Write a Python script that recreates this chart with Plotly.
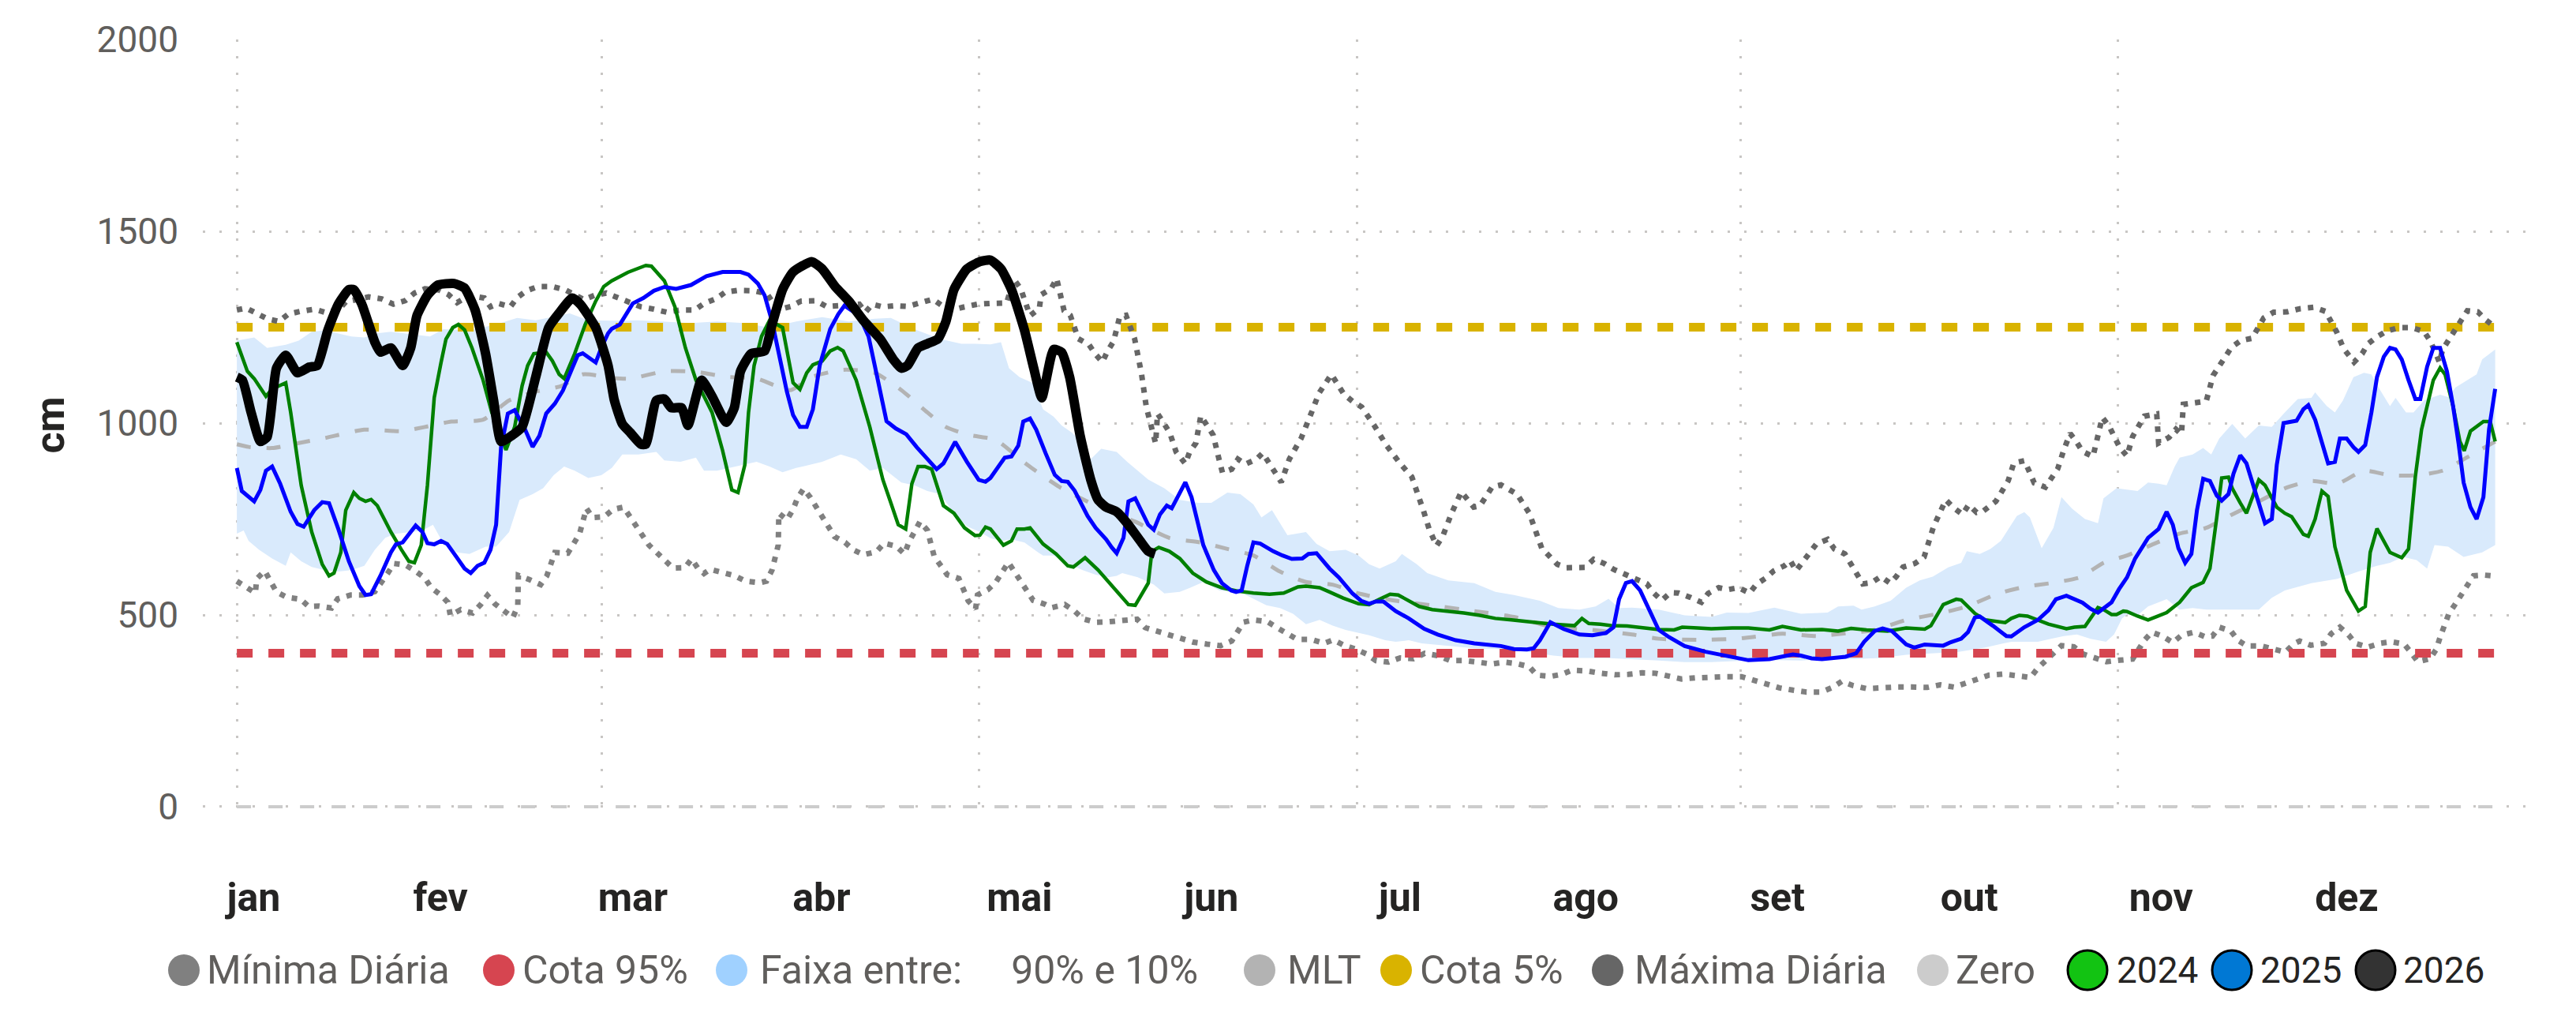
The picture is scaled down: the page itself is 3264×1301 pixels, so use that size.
import plotly.graph_objects as go

# ---------------- data (day of year, 0 = 1 jan) ----------------
month_labels = ["jan", "fev", "mar", "abr", "mai", "jun", "jul", "ago", "set", "out", "nov", "dez"]
month_label_days = [2.7, 32.9, 64.0, 94.5, 126.5, 157.5, 188.0, 218.0, 249.0, 280.0, 311.0, 341.0]
grid_days = [0, 59, 120, 181, 243, 304]
y_ticks = [0, 500, 1000, 1500, 2000]

cota95_value = 400
cota5_value = 1250
zero_value = 0
full_year = [0, 365]

d2026 = [0, 0.9, 2.3, 3.8, 4.9, 6.4, 7.9, 9.8, 11.7, 13.0, 14.7, 16.4, 18.1, 18.9, 20.2, 22.3, 23.2, 24.9,
         26.8, 28.1, 29.1, 30.8, 32.5, 35.1, 36.8, 38.5, 40.2, 41.5, 42.7, 44.4, 46.1, 48.3, 50.4, 52.1,
         54.2, 55.5, 58.0, 60.0, 61.0, 62.3, 63.6, 65.3, 66.1, 67.8, 69.1, 70.2, 71.9, 72.9, 75.1, 76.8,
         79.1, 80.4, 81.4, 83.1, 85.3, 86.5, 88.2, 89.9, 92.9, 94.6, 96.7, 98.9, 101.4, 104.0, 106.1,
         107.4, 108.4, 110.1, 111.6, 113.3, 114.6, 115.9, 118.0, 120.1, 121.8, 123.5, 125.2, 127.3,
         128.8, 130.1, 132.0, 133.3, 134.6, 136.3, 138.0, 139.2, 140.5, 142.2, 143.9, 146.0, 147.3, 148.4]
v2026 = [1120, 1112, 1028, 952, 964, 1143, 1177, 1131, 1146, 1150, 1242, 1310, 1348, 1348, 1310, 1211, 1185, 1196,
         1150, 1196, 1280, 1333, 1360, 1364, 1352, 1295, 1181, 1059, 952, 967, 990, 1120, 1249, 1287,
         1326, 1310, 1249, 1150, 1060, 998, 975, 945, 945, 1059, 1063, 1040, 1040, 994, 1112, 1070,
         1002, 1040, 1135, 1181, 1188, 1257, 1348, 1394, 1421, 1402, 1356, 1318, 1265, 1219, 1166,
         1143, 1150, 1196, 1207, 1219, 1265, 1348, 1402, 1421, 1425, 1402, 1348, 1242,
         1143, 1066, 1192, 1185, 1120, 967, 853, 800, 781, 769, 739, 693, 666, 659]

d2024 = [0, 1.7, 2.8, 4.7, 5.7, 7.9, 8.7, 10.4, 12.1, 13.8, 14.9, 15.7, 16.8, 17.6, 18.9, 19.8, 20.8, 21.7, 22.7,
         24.9, 26.6, 27.8, 28.7, 29.8, 30.8, 31.9, 33.0, 33.8, 34.9, 35.8, 36.8, 38.0, 39.8, 41.2, 43.5, 44.9,
         46.1, 47.0, 48.0, 50.0, 51.0, 52.1, 52.9, 54.6, 56.3, 58.0, 59.3, 60.6, 63.2, 66.1, 67.0, 69.1, 70.8,
         72.5, 74.2, 76.8, 78.5, 80.0, 81.0, 82.1, 82.7, 83.6, 84.8, 86.1, 88.2, 89.9, 91.0, 92.1, 93.1, 94.6,
         95.9, 97.1, 98.0, 100.1, 102.3, 104.4, 105.7, 106.9, 108.1, 109.1, 110.1, 111.2, 112.3, 114.2, 115.9,
         117.6, 119.3, 120.1, 121.0, 121.8, 123.9, 125.2, 126.1, 127.3, 128.2, 130.3, 132.4, 134.3, 135.2,
         137.1, 139.2, 140.9, 142.6, 144.1, 145.2, 146.2, 147.3, 147.9, 149.0, 150.7, 152.4, 154.5, 156.7,
         159.2, 161.8, 164.3, 166.9, 169.2, 171.5, 172.8, 175.0, 176.6, 178.8, 181.3, 183.0, 184.7, 186.4,
         187.7, 189.0, 191.1, 193.2, 195.8, 198.3, 200.9, 203.4, 206.0, 208.5, 210.2, 212.8, 216.2, 217.4,
         218.5, 220.4, 222.1, 224.7, 227.2, 229.8, 232.3, 233.6, 236.1, 238.3, 241.7, 244.3, 247.7, 249.8,
         252.8, 256.2, 258.8, 260.9, 263.4, 266.8, 269.8, 272.8, 273.8, 275.8, 277.9, 278.7, 280.9, 282.6,
         285.8, 286.8, 288.1, 289.4, 292.8, 295.7, 297.0, 298.7, 300.8, 301.7, 303.0, 303.8, 304.9, 305.5,
         307.2, 308.9, 310.2, 311.9, 314.0, 315.9, 317.8, 318.9, 320.0, 320.8, 321.9, 322.5, 323.8, 324.8,
         326.8, 327.8, 329.7, 331.0, 332.1, 334.0, 334.8, 335.9, 337.0, 338.0, 339.1, 341.0, 342.9, 344.0,
         344.8, 345.9, 348.0, 349.9, 351.0, 352.1, 353.1, 355.0, 356.1, 356.9, 358.2, 359.3, 360.0, 361.0,
         363.1, 364.2, 365.0]
v2024 = [1211, 1135, 1116, 1070, 1089, 1105, 1028, 838, 716, 632, 602, 609, 663, 773, 819, 804, 796, 801, 785,
         716, 670, 640, 636, 682, 838, 1066, 1158, 1219, 1249, 1257, 1243, 1196, 1112, 1028, 930, 990,
         1097, 1150, 1181, 1185, 1162, 1127, 1116, 1181, 1257, 1318, 1356, 1371, 1393, 1411, 1409, 1371, 1303,
         1196, 1112, 1028, 929, 826, 819, 891, 1028, 1150, 1226, 1268, 1249, 1105, 1088, 1131, 1152, 1162,
         1188, 1197, 1188, 1112, 990, 853, 792, 735, 724, 842, 887, 887, 880, 785, 765,
         727, 707, 708, 729, 724, 682, 693, 724, 724, 727, 685, 659, 628, 625,
         649, 617, 586, 552, 527, 525, 552, 583, 666, 676, 666, 647, 609, 586,
         571, 562, 557, 554, 557, 573, 575, 571, 560, 544, 529, 527, 541, 554,
         552, 541, 522, 514, 510, 505, 499, 491, 487, 484, 480, 476, 472, 491,
         478, 476, 472, 471, 466, 462, 461, 468, 466, 464, 466, 466, 461, 470,
         461, 462, 458, 465, 461, 458, 466, 463, 472, 527, 541, 539, 504, 487,
         480, 491, 499, 497, 476, 464, 468, 470, 519, 514, 501, 501, 510, 509,
         497, 487, 495, 506, 533, 571, 585, 621, 754, 857, 859, 830, 792, 765,
         852, 838, 781, 765, 756, 710, 705, 750, 823, 809, 678, 564, 510, 522,
         663, 725, 663, 649, 672, 861, 983, 1112, 1144, 1127, 1044, 952, 928, 979,
         1004, 1004, 952]

d2025 = [0, 0.8, 2.8, 3.8, 4.7, 5.7, 7.0, 8.7, 9.8, 10.8, 12.5, 13.8, 14.9, 16.4, 18.1, 19.8, 20.8, 21.7, 23.2,
         24.9, 25.7, 26.8, 28.9, 30.0, 30.8, 31.9, 33.0, 34.0, 35.5, 36.8, 37.8, 38.9, 40.0, 41.0, 41.9, 42.7,
         43.8, 44.9, 46.6, 47.8, 48.9, 50.0, 51.4, 52.7, 54.2, 55.1, 55.9, 57.2, 58.0, 58.9, 60.0, 60.6, 61.9,
         64.0, 65.7, 67.4, 69.1, 71.0, 73.4, 75.9, 78.5, 81.4, 82.7, 84.2, 85.3, 86.5, 87.8, 88.9, 89.9, 91.0,
         92.1, 93.1, 94.2, 95.9, 97.2, 98.2, 100.6, 102.1, 103.1, 105.0, 106.5, 108.2, 109.9, 111.6, 113.1,
         114.2, 116.1, 118.0, 119.9, 121.0, 121.8, 124.1, 125.2, 126.3, 127.1, 128.2, 129.2, 130.7, 132.2,
         133.3, 134.3, 135.4, 137.5, 138.8, 140.5, 141.4, 142.2, 143.3, 144.1, 145.2, 147.3, 148.2, 149.2,
         150.3, 151.1, 153.3, 154.3, 156.2, 157.9, 159.2, 160.7, 161.5, 162.4, 163.3, 164.3, 165.4, 167.5,
         169.0, 170.5, 172.2, 173.2, 174.5, 176.6, 178.1, 180.3, 181.7, 183.0, 184.1, 185.3, 187.3, 189.4,
         191.9, 194.1, 197.0, 200.0, 204.3, 206.4, 208.5, 209.6, 210.6, 212.3, 214.5, 217.0, 219.1, 221.3,
         222.5, 223.4, 224.5, 225.5, 226.8, 228.1, 229.8, 231.5, 234.0, 237.4, 240.0, 242.5, 244.3, 247.7,
         249.8, 251.5, 252.8, 254.5, 256.2, 258.8, 260.0, 261.7, 263.0, 264.7, 266.0, 267.5, 269.8, 271.1,
         272.8, 275.8, 277.0, 278.7, 279.8, 280.9, 281.7, 283.8, 286.0, 286.8, 288.9, 291.1, 292.8, 294.0,
         295.7, 298.3, 299.6, 300.8, 303.0, 304.2, 305.5, 306.8, 307.8, 308.9, 310.6, 311.9, 312.9, 313.8,
         314.9, 315.9, 316.8, 317.8, 318.9, 320.0, 320.8, 321.9, 322.7, 323.8, 324.8, 325.9, 327.8, 328.9,
         329.7, 330.8, 331.9, 332.9, 334.0, 334.8, 335.9, 338.0, 339.1, 339.9, 341.0, 342.1, 342.9, 344.0,
         345.0, 345.9, 347.0, 348.0, 348.9, 349.9, 351.0, 352.1, 352.9, 354.0, 355.0, 356.1, 357.2, 358.2,
         359.1, 359.9, 361.0, 362.0, 363.1, 364.0, 365.0]
v2025 = [883, 823, 796, 826, 876, 887, 842, 769, 737, 730, 773, 794, 791, 724, 640, 575, 552, 554, 602,
         663, 684, 689, 733, 716, 687, 684, 693, 685, 651, 621, 609, 628, 636, 670, 735, 937,
         1025, 1034, 983, 938, 967, 1025, 1051, 1085, 1143, 1177, 1182, 1166, 1158, 1196, 1234, 1246, 1257,
         1312, 1326, 1345, 1355, 1350, 1360, 1383, 1394, 1394, 1387, 1364, 1333, 1265, 1166, 1082, 1021, 990,
         990, 1036, 1150, 1245, 1284, 1306, 1280, 1226, 1150, 1005, 986, 971, 937, 906, 880,
         895, 951, 899, 852, 847, 857, 910, 913, 941, 1004, 1012, 983, 922, 865,
         849, 847, 824, 758, 727, 697, 676, 661, 701, 796, 804, 735, 722, 762,
         785, 778, 846, 807, 682, 617, 583, 564, 560, 564, 628, 689, 686, 666,
         655, 646, 647, 659, 661, 621, 598, 556, 537, 529, 535, 535, 510, 491,
         464, 449, 434, 426, 419, 411, 410, 413, 434, 481, 463, 449, 447, 453,
         468, 541, 583, 588, 564, 518, 461, 442, 419, 404, 396, 387, 382, 385,
         391, 397, 394, 387, 385, 390, 391, 400, 430, 458, 465, 458, 423, 415,
         423, 420, 429, 438, 455, 493, 496, 472, 445, 444, 468, 487, 512, 541,
         550, 532, 516, 506, 533, 567, 598, 647, 672, 701, 724, 769, 735, 674,
         636, 659, 773, 855, 849, 811, 798, 815, 868, 916, 895, 838, 739, 750,
         891, 1000, 1004, 1006, 1036, 1047, 1009, 895, 899, 960, 960, 937, 925, 943,
         1028, 1120, 1173, 1196, 1192, 1166, 1112, 1063, 1063, 1147, 1196, 1196, 1135, 1044,
         945, 845, 781, 750, 807, 983, 1089]

d_mlt = [0, 1.9, 5.7, 10.0, 14.2, 20.6, 26.6, 30.4, 34.7, 39.8, 44.0, 48.3, 52.5, 55.9, 60.6, 63.6, 69.1, 74.2,
         78.9, 84.0, 89.5, 92.9, 98.0, 103.1, 107.4, 111.6, 114.6, 118.4, 121.8, 123.1, 127.8, 132.9, 138.8,
         145.2, 150.7, 155.8, 160.1, 164.3, 168.6, 172.8, 177.1, 181.3, 183.0, 187.3, 193.6, 200.0, 206.4,
         212.8, 219.1, 225.5, 229.8, 236.1, 242.5, 249.8, 255.4, 260.5, 264.7, 269.8, 274.9, 279.6, 284.7,
         288.9, 293.2, 297.9, 301.7, 305.5, 309.8, 314.0, 318.3, 322.5, 326.8, 331.0, 335.3, 339.5, 343.8,
         348.0, 352.3, 356.5, 360.8, 365.0]
v_mlt = [945, 938, 935, 948, 961, 983, 979, 990, 1004, 1009, 1059, 1082, 1097, 1127, 1118, 1116, 1135, 1134,
         1121, 1116, 1086, 1120, 1139, 1131, 1086, 1028, 990, 969, 960, 952, 891, 834, 785,
         743, 701, 689, 672, 655, 613, 586, 579, 556, 550, 537, 524, 510, 495,
         468, 461, 449, 438, 435, 438, 451, 445, 453, 461, 487, 503, 522, 556,
         573, 583, 598, 636, 655, 685, 712, 727, 762, 796, 830, 849, 842, 876,
         864, 864, 876, 914, 952]

d_p90 = [0, 2.8, 4.9, 7.9, 10.0, 12.1, 14.2, 16.4, 18.5, 20.6, 22.7, 24.9, 29.1, 31.2, 33.4, 37.6, 41.9, 45.3,
         48.3, 53.8, 56.8, 60.6, 64.9, 69.1, 73.4, 77.6, 81.9, 86.1, 90.4, 94.6, 98.9, 103.1, 105.7, 109.5,
         113.7, 117.1, 119.3, 121.8, 123.5, 124.8, 126.5, 128.6, 130.3, 132.0, 133.3, 135.0, 136.3, 138.0,
         139.7, 142.2, 143.9, 145.6, 147.3, 149.9, 152.4, 155.4, 157.5, 160.1, 162.2, 164.3, 165.6, 167.3,
         169.8, 172.8, 174.5, 176.6, 179.2, 181.3, 183.0, 184.7, 187.3, 188.3, 190.7, 192.4, 195.8, 200.0,
         203.4, 206.4, 210.6, 213.6, 217.0, 219.6, 221.7, 223.4, 225.5, 229.8, 234.0, 238.3, 240.8, 244.3,
         248.5, 252.8, 257.1, 258.8, 261.3, 262.6, 264.7, 267.3, 269.8, 272.0, 274.1, 276.6, 278.7, 279.6,
         281.7, 283.4, 285.1, 287.7, 288.9, 289.8, 291.7, 293.6, 294.9, 296.6, 298.7, 300.8, 301.7, 303.8,
         305.5, 307.2, 308.9, 310.6, 311.9, 313.2, 314.0, 316.1, 317.8, 319.1, 320.4, 322.5, 324.6, 326.8,
         328.9, 331.0, 333.1, 335.3, 335.9, 337.8, 339.1, 340.4, 342.1, 343.8, 345.0, 346.3, 348.0, 348.9,
         350.6, 351.8, 353.5, 354.8, 356.1, 357.4, 358.6, 362.0, 362.9, 365.0]
v_p90 = [1215, 1223, 1196, 1204, 1215, 1238, 1242, 1234, 1226, 1223, 1234, 1238, 1230, 1226, 1245, 1242, 1257, 1274,
         1268, 1286, 1268, 1267, 1268, 1265, 1261, 1265, 1261, 1249, 1265, 1276, 1265, 1272, 1274, 1245,
         1219, 1207, 1207, 1205, 1211, 1143, 1120, 1105, 1036, 1017, 994, 975, 952, 906,
         933, 925, 899, 876, 853, 830, 800, 792, 792, 819, 815, 788, 754, 773,
         708, 716, 685, 666, 670, 655, 632, 621, 640, 659, 632, 609, 590, 583,
         560, 552, 537, 518, 514, 522, 542, 518, 519, 514, 499, 495, 506, 505,
         519, 503, 506, 522, 524, 514, 522, 537, 571, 590, 600, 624, 636, 666,
         659, 672, 693, 758, 768, 754, 674, 727, 807, 777, 750, 739, 804, 830,
         826, 823, 845, 842, 838, 887, 910, 918, 935, 918, 960, 998, 960, 994,
         990, 1028, 1063, 1066, 1080, 1044, 1028, 1059, 1120, 1131, 1127, 1089, 1044, 1066,
         1028, 1028, 1059, 1066, 1074, 1068, 1093, 1127, 1166, 1192]

d_p10 = [0, 1.1, 1.9, 3.6, 5.7, 7.9, 8.7, 10.4, 12.1, 14.2, 16.4, 18.5, 20.6, 22.3, 24.0, 25.7, 28.3, 30.0,
         31.7, 33.0, 35.5, 37.6, 40.2, 41.9, 44.0, 45.7, 47.8, 49.5, 51.2, 52.9, 54.6, 56.8, 58.9, 60.6,
         62.3, 64.9, 67.8, 69.1, 71.7, 74.2, 75.5, 77.6, 79.7, 81.9, 84.0, 86.1, 88.2, 90.4, 92.5, 94.6,
         97.6, 100.1, 102.3, 104.4, 107.4, 109.5, 111.6, 113.7, 115.9, 118.0, 120.1, 121.8, 123.5, 125.2,
         127.3, 129.5, 130.3, 132.0, 134.6, 136.7, 138.8, 140.9, 142.2, 143.1, 145.6, 148.2, 149.9, 152.4,
         154.1, 156.2, 158.8, 162.6, 166.4, 168.6, 170.7, 172.8, 175.0, 177.1, 179.2, 183.0, 185.6, 187.3,
         189.4, 191.5, 195.8, 200.0, 204.3, 208.5, 212.8, 217.0, 221.3, 225.5, 229.8, 234.0, 238.3, 244.3,
         248.5, 252.8, 257.1, 261.3, 265.6, 269.8, 274.1, 278.3, 282.6, 284.7, 286.8, 288.9, 291.1, 293.2,
         295.3, 297.4, 299.6, 302.1, 303.4, 304.7, 305.5, 307.2, 308.9, 311.9, 314.0, 316.1, 318.3, 322.5,
         326.8, 328.9, 331.0, 335.3, 339.5, 342.9, 345.9, 348.0, 350.1, 352.3, 354.0, 355.2, 357.4, 359.9,
         362.9, 365.0]
v_p10 = [712, 720, 693, 670, 647, 628, 663, 640, 625, 617, 613, 617, 628, 670, 701, 712, 716, 720,
         735, 697, 663, 659, 678, 678, 716, 800, 815, 830, 864, 887, 876, 857, 864, 883,
         918, 918, 925, 903, 899, 910, 876, 876, 883, 891, 899, 887, 872, 883, 891, 899,
         918, 906, 876, 883, 845, 838, 823, 815, 765, 731, 716, 700, 693, 697,
         689, 663, 655, 655, 632, 617, 605, 598, 602, 609, 598, 579, 556, 560,
         571, 586, 564, 556, 525, 518, 503, 476, 487, 472, 461, 447, 434, 430,
         434, 426, 419, 413, 411, 404, 394, 388, 388, 385, 381, 377, 377, 381,
         382, 381, 385, 385, 388, 396, 400, 404, 415, 423, 430, 430, 430, 438,
         445, 449, 438, 430, 449, 491, 501, 499, 522, 541, 514, 518, 514, 514,
         514, 545, 564, 583, 594, 613, 628, 636, 651, 643, 621, 682, 678, 651,
         663, 682]

d_max = [0, 1.5, 3.2, 4.9, 6.8, 8.3, 10.2, 12.5, 14.2, 16.4, 17.6, 19.3, 21.3, 23.4, 25.3, 27.2, 28.7, 30.4,
         32.7, 34.2, 35.6, 37.6, 40.0, 41.0, 42.3, 44.2, 45.3, 46.8, 48.7, 51.0, 53.1, 56.1, 57.8, 59.7,
         61.5, 63.4, 65.3, 67.4, 69.5, 71.7, 74.0, 75.5, 77.4, 78.9, 81.0, 83.6, 85.7, 87.4, 89.5, 91.2,
         93.6, 95.3, 97.0, 100.6, 101.6, 102.7, 104.4, 106.3, 108.4, 110.6, 112.5, 114.0, 115.7, 117.6,
         119.7, 121.8, 124.4, 125.6, 126.7, 128.2, 129.7, 130.0, 131.6, 132.5, 133.7, 134.7, 136.0, 137.7,
         138.7, 139.9, 140.7, 141.7, 142.7, 143.7, 145.1, 146.2, 147.0, 148.5, 148.8, 149.8, 150.8, 151.8,
         153.3, 154.0, 155.0, 155.8, 156.8, 157.8, 158.8, 159.3, 160.8, 161.8, 163.0, 164.8, 165.8, 166.8,
         168.8, 170.1, 172.0, 173.8, 174.9, 176.9, 178.9, 180.3, 181.8, 183.9, 185.8, 188.0, 189.9, 191.8,
         192.7, 193.9, 194.9, 196.3, 197.9, 199.9, 200.9, 202.9, 204.3, 206.9, 208.9, 210.9, 213.4, 214.9,
         217.9, 219.3, 221.0, 222.5, 224.3, 226.0, 227.9, 229.0, 230.3, 231.7, 233.0, 234.9, 236.7, 237.8,
         239.5, 241.0, 242.7, 244.5, 245.6, 247.1, 248.4, 250.1, 251.1, 252.0, 254.2, 255.3, 257.1, 258.2,
         259.9, 261.3, 262.8, 264.2, 265.7, 267.2, 268.2, 269.3, 271.2, 272.7, 274.2, 276.2, 277.5, 278.9,
         279.9, 281.2, 282.3, 284.3, 286.3, 287.2, 288.9, 289.7, 290.5, 292.3, 293.3, 294.3, 295.3, 296.3,
         297.3, 298.3, 300.0, 301.5, 302.6, 303.4, 304.3, 305.5, 306.4, 308.3, 310.3, 310.6, 312.3, 313.4,
         314.3, 314.6, 316.8, 318.3, 319.4, 320.4, 321.4, 322.4, 323.9, 325.7, 327.6, 329.2, 331.4, 333.4,
         335.7, 337.6, 338.5, 339.4, 340.5, 342.2, 343.5, 344.4, 345.9, 347.5, 349.5, 351.5, 353.5, 354.5,
         355.3, 356.0, 356.5, 357.5, 358.5, 359.5, 360.5, 362.2, 363.5, 365.0]
v_max = [1295, 1300, 1286, 1272, 1265, 1284, 1291, 1297, 1289, 1295, 1316, 1322, 1329, 1324, 1310, 1319, 1339, 1350,
         1347, 1335, 1314, 1333, 1326, 1303, 1312, 1303, 1327, 1345, 1356, 1356, 1347, 1322, 1333, 1339,
         1327, 1316, 1303, 1297, 1289, 1295, 1295, 1312, 1324, 1341, 1346, 1345, 1337, 1295, 1304, 1318,
         1319, 1304, 1306, 1310, 1289, 1310, 1303, 1306, 1304, 1314, 1323, 1306, 1295, 1303,
         1310, 1312, 1313, 1375, 1350, 1280, 1299, 1335, 1350, 1377, 1293, 1281, 1220, 1205,
         1181, 1159, 1187, 1213, 1278, 1281, 1220, 1130, 1041, 947, 1025, 1000, 974, 925,
         894, 925, 948, 1019, 994, 969, 902, 871, 880, 906, 893, 906, 922, 897,
         846, 906, 960, 1032, 1078, 1127, 1076, 1057, 1042, 992, 942, 895, 860, 771,
         724, 680, 705, 764, 821, 781, 784, 834, 839, 815, 765, 674, 632, 623,
         624, 645, 634, 619, 607, 594, 581, 557, 538, 558, 557, 546, 533, 556,
         571, 566, 571, 557, 580, 596, 615, 628, 641, 615, 663, 685, 697, 672,
         659, 619, 581, 584, 600, 583, 600, 625, 634, 651, 729, 800, 779, 762,
         787, 767, 771, 796, 850, 896, 902, 874, 844, 833, 856, 881, 931, 973,
         952, 926, 913, 1015, 992, 963, 937, 914, 965, 1018, 1024, 948, 963, 984,
         971, 1049, 1055, 1057, 1124, 1149, 1173, 1198, 1215, 1221, 1274, 1289, 1290, 1298,
         1302, 1291, 1264, 1237, 1194, 1159, 1181, 1206, 1225, 1240, 1249, 1249, 1239, 1214,
         1186, 1158, 1192, 1217, 1243, 1268, 1293, 1290, 1269, 1250]

d_min = [0, 1.3, 3.0, 3.2, 4.5, 5.5, 6.4, 8.1, 10.3, 11.6, 13.3, 15.3, 16.3, 18.4, 20.3, 22.3, 23.4, 24.4,
         25.4, 27.3, 28.8, 30.4, 31.4, 32.8, 34.1, 34.5, 36.2, 38.1, 39.4, 40.5, 41.7, 43.1, 44.6, 45.4,
         45.5, 47.3, 49.1, 50.1, 51.4, 53.5, 55.4, 56.5, 57.5, 59.4, 60.8, 62.5, 64.5, 66.6, 69.2, 70.5,
         72.4, 73.5, 74.5, 75.5, 76.5, 78.5, 80.5, 82.2, 84.5, 85.6, 86.5, 87.5, 87.6, 88.9, 89.9, 90.6,
         91.6, 92.7, 94.6, 96.6, 98.3, 99.6, 101.3, 103.4, 104.6, 106.6, 107.9, 108.6, 110.4, 111.6, 112.7,
         113.7, 114.8, 116.7, 118.2, 119.4, 119.7, 121.4, 122.7, 124.7, 125.7, 127.7, 128.7, 130.6, 131.7,
         133.8, 135.4, 136.7, 138.7, 140.8, 143.1, 145.5, 146.8, 148.7, 150.7, 152.8, 154.6, 156.8, 159.0,
         160.8, 162.7, 164.3, 166.5, 168.1, 169.8, 171.4, 173.7, 175.7, 177.2, 178.9, 180.8, 182.6, 184.1,
         186.1, 188.0, 190.2, 192.0, 194.1, 196.1, 198.4, 200.6, 202.8, 204.9, 206.9, 208.9, 210.1, 212.4,
         214.1, 215.8, 218.2, 220.4, 222.7, 224.9, 227.1, 229.3, 231.4, 233.5, 235.8, 238.2, 240.7, 243.2,
         245.1, 247.1, 249.3, 251.5, 253.7, 256.1, 257.9, 259.4, 261.2, 263.4, 265.8, 268.3, 270.7, 273.2,
         275.3, 277.5, 279.4, 281.3, 283.2, 285.5, 287.7, 289.9, 291.0, 292.3, 293.6, 294.9, 296.9, 298.4,
         300.3, 302.2, 304.3, 306.4, 308.3, 309.5, 311.3, 312.9, 314.3, 316.3, 318.0, 319.3, 320.4, 322.3,
         323.4, 324.9, 327.2, 329.2, 331.1, 332.4, 333.4, 335.2, 337.4, 338.5, 339.9, 341.3, 342.4, 344.4,
         346.4, 348.2, 350.3, 351.4, 352.5, 354.5, 355.5, 356.1, 356.7, 357.5, 358.5, 359.5, 360.5, 361.5,
         363.1, 364.5]
v_min = [588, 573, 557, 594, 615, 586, 560, 546, 541, 522, 523, 518, 542, 552, 552, 561, 584, 609,
         634, 630, 615, 596, 571, 554, 533, 499, 514, 505, 527, 551, 529, 510, 493, 523,
         603, 592, 579, 602, 663, 661, 712, 778, 754, 756, 775, 781, 731, 682, 642, 622,
         623, 646, 622, 608, 619, 609, 602, 588, 584, 588, 617, 682, 765, 748, 775, 804,
         829, 806, 754, 704, 689, 670, 657, 665, 687, 679, 659, 689, 743, 721, 653,
         628, 605, 595, 537, 516, 552, 566, 586, 637, 613, 563, 538, 528, 519,
         527, 510, 490, 481, 482, 487, 489, 467, 457, 448, 439, 429, 424, 420,
         432, 481, 487, 483, 467, 452, 436, 436, 426, 435, 421, 411, 398, 381,
         377, 388, 386, 400, 394, 381, 381, 377, 372, 377, 373, 365, 343, 340,
         345, 356, 354, 348, 344, 345, 349, 348, 339, 333, 336, 339, 339, 339,
         329, 318, 310, 304, 299, 299, 311, 327, 316, 308, 311, 312, 312, 311,
         318, 312, 322, 333, 343, 346, 343, 337, 360, 381, 400, 420, 417, 398,
         388, 378, 382, 385, 434, 455, 444, 428, 447, 455, 444, 445, 468, 458,
         434, 419, 419, 409, 403, 424, 432, 421, 426, 451, 468, 448, 426, 416,
         426, 430, 424, 402, 378, 386, 411, 442, 472, 503, 527, 552, 576, 602,
         604, 602]

# ---------------- figure geometry ----------------
W, H = 3264, 1301
ML, MR, MT, MB = 257, 64, 50, 274
PW, PH = W - ML - MR, H - MT - MB
X_RANGE = [-5.5, 369.9]
Y_RANGE = [-10.3, 2000]

FONT = "Roboto"
GRID = "#C8C6C4"

fig = go.Figure()

# band 90% - 10%
fig.add_trace(go.Scatter(
    x=d_p90 + d_p10[::-1], y=v_p90 + v_p10[::-1], fill="toself",
    fillcolor="#D9EAFC", line=dict(width=0), mode="lines",
    name="Faixa entre: 90% e 10%", hoverinfo="skip"))

fig.add_trace(go.Scatter(x=d_min, y=v_min, mode="lines", name="Mínima Diária",
                         line=dict(color="#808080", width=7, dash="7px,9px")))
fig.add_trace(go.Scatter(x=full_year, y=[cota95_value] * 2, mode="lines", name="Cota 95%",
                         line=dict(color="#D64550", width=11, dash="20px,20px")))
fig.add_trace(go.Scatter(x=d_mlt, y=v_mlt, mode="lines", name="MLT", line_shape="spline",
                         line=dict(color="#B3B3B3", width=5, dash="18px,20px", smoothing=0.6)))
fig.add_trace(go.Scatter(x=full_year, y=[cota5_value] * 2, mode="lines", name="Cota 5%",
                         line=dict(color="#D9B300", width=11, dash="20px,20px")))
fig.add_trace(go.Scatter(x=d_max, y=v_max, mode="lines", name="Máxima Diária",
                         line=dict(color="#666666", width=7, dash="7px,9px")))
fig.add_trace(go.Scatter(x=full_year, y=[zero_value] * 2, mode="lines", name="Zero",
                         line=dict(color="#CCCCCC", width=4, dash="18px,22px")))
fig.add_trace(go.Scatter(x=d2024, y=v2024, mode="lines", name="2024",
                         line=dict(color="#008000", width=4.5)))
fig.add_trace(go.Scatter(x=d2025, y=v2025, mode="lines", name="2025",
                         line=dict(color="#0000FF", width=5)))
fig.add_trace(go.Scatter(x=d2026, y=v2026, mode="lines", name="2026",
                         line=dict(color="#000000", width=12, shape="spline", smoothing=0.5)))

fig.update_layout(
    width=W, height=H, showlegend=False,
    margin=dict(l=ML, r=MR, t=MT, b=MB, pad=0),
    plot_bgcolor="white", paper_bgcolor="white",
    font=dict(family=FONT),
    xaxis=dict(range=X_RANGE, tickmode="array", tickvals=month_label_days, ticktext=month_labels,
               showgrid=False, zeroline=False, showline=False, ticks="",
               tickfont=dict(family=FONT, size=50, color="#252423", weight="bold"),
               ticklabelstandoff=76,
               minor=dict(tickmode="array", tickvals=grid_days, showgrid=True, gridcolor=GRID,
                          gridwidth=3, griddash="3px,18px", ticks="")),
    yaxis=dict(range=Y_RANGE, tickmode="array", tickvals=y_ticks, showgrid=True, gridcolor=GRID,
               gridwidth=3, griddash="3px,18px", zeroline=False, showline=False, ticks="",
               tickfont=dict(family=FONT, size=46, color="#605E5C"), ticklabelstandoff=30,
               title=dict(text="cm", font=dict(family=FONT, size=52, color="#252423", weight="bold"),
                          standoff=24)),
)

# ---------------- legend (drawn as shapes + text) ----------------
def px_x(px):
    return (px - ML) / PW

def px_y(py):
    return (MT + PH - py) / PH

legend_items = [
    ("Mínima Diária", "#808080", 233, 260, False),
    ("Cota 95%", "#D64550", 632, 660, False),
    ("Faixa entre:\u00a0\u00a0\u00a0\u00a0\u00a090% e 10%", "#A0D1FF", 927, 961, False),
    ("MLT", "#B3B3B3", 1596, 1629, False),
    ("Cota 5%", "#D9B300", 1769, 1797, False),
    ("Máxima Diária", "#666666", 2037, 2069, False),
    ("Zero", "#CCCCCC", 2449, 2476, False),
    ("2024", "#12C312", 2645, 2680, True),
    ("2025", "#0078D4", 2828, 2862, True),
    ("2026", "#333333", 3010, 3043, True),
]
LEG_Y = 1229
for label, color, cx, tx, outlined in legend_items:
    r = 25 if outlined else 20
    fig.add_shape(type="circle", xref="paper", yref="paper", xsizemode="pixel", ysizemode="pixel",
                  xanchor=px_x(cx), yanchor=px_y(LEG_Y), x0=-r, x1=r, y0=-r, y1=r,
                  fillcolor=color, line=dict(color="black", width=3 if outlined else 0))
    fig.add_annotation(x=px_x(tx), y=px_y(LEG_Y), xref="paper", yref="paper", text=label,
                       showarrow=False, xanchor="left", yanchor="middle",
                       font=dict(family=FONT, size=46 if outlined else 50,
                                 color="#252423" if outlined else "#605E5C"))

fig.write_html("out.html", config={"displayModeBar": False},
               post_script="document.body.style.margin='0px';")
